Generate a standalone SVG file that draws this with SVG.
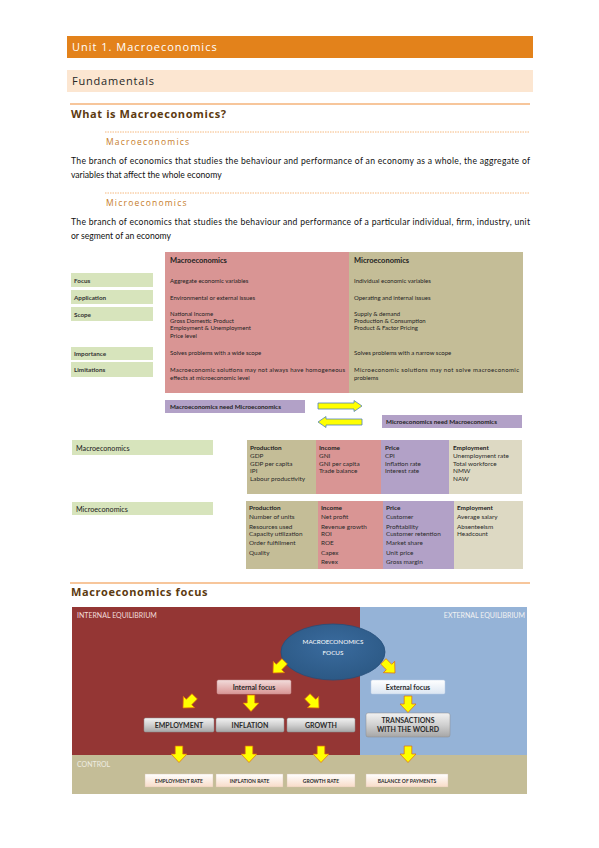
<svg xmlns="http://www.w3.org/2000/svg" width="599" height="848" viewBox="0 0 599 848">
<defs>
<style>
.hd{font-family:"Open Sans","Liberation Sans",sans-serif;}
.b{font-family:Lato,"Liberation Sans",sans-serif;}
.t6{font-family:Lato,"Liberation Sans",sans-serif;font-size:6px;fill:#222;}
.t6b{font-family:Lato,"Liberation Sans",sans-serif;font-size:6.3px;fill:#222;font-weight:bold;}
.lab{font-family:Lato,"Liberation Sans",sans-serif;font-size:6.3px;fill:#333;font-weight:bold;}
.cell{font-family:Lato,"Liberation Sans",sans-serif;font-size:6.4px;fill:#2a2a2a;}
.cellb{font-family:Lato,"Liberation Sans",sans-serif;font-size:6.4px;fill:#222;font-weight:bold;}
.fx{font-family:Lato,"Liberation Sans",sans-serif;font-weight:bold;fill:#2b2b2b;text-anchor:middle;}
.arr{fill:#FFFF00;stroke:#E36C09;stroke-width:0.7;}
.harr{fill:#FFFF00;stroke:#4F81BD;stroke-width:0.8;}
</style>
<path id="da" d="M-3.8,-8 H3.8 V0 H8 L0,8.5 L-8,0 H-3.8 Z"/>
<linearGradient id="gPink" x1="0" y1="0" x2="0" y2="1"><stop offset="0" stop-color="#F2DCDB"/><stop offset="1" stop-color="#D99594"/></linearGradient>
<linearGradient id="gWhite" x1="0" y1="0" x2="0" y2="1"><stop offset="0" stop-color="#FFFFFF"/><stop offset="1" stop-color="#DCE6F2"/></linearGradient>
<linearGradient id="gGray" x1="0" y1="0" x2="0" y2="1"><stop offset="0" stop-color="#F2F2F2"/><stop offset="0.5" stop-color="#D0D0D0"/><stop offset="1" stop-color="#A6A6A6"/></linearGradient>
<linearGradient id="gPeach" x1="0" y1="0" x2="0" y2="1"><stop offset="0" stop-color="#FFFFFF"/><stop offset="1" stop-color="#F8DCC8"/></linearGradient>
<radialGradient id="gEll" cx="0.5" cy="0.4" r="0.6"><stop offset="0" stop-color="#3A6B9E"/><stop offset="1" stop-color="#2C5985"/></radialGradient>
</defs>

<g id="header">
<rect x="67" y="36" width="466" height="22" fill="#E3821B"/>
<text x="72" y="51" class="hd" font-size="11" fill="#FFFFFF" letter-spacing="1">Unit 1. Macroeconomics</text>
<rect x="67" y="70" width="466" height="22" fill="#FCE6D1"/>
<text x="72" y="85" class="hd" font-size="11" fill="#262626" letter-spacing="0.8">Fundamentals</text>
<line x1="70" y1="104" x2="530" y2="104" stroke="#F4B37A" stroke-width="1.5"/>
<text x="71" y="118" class="hd" font-size="11" font-weight="bold" fill="#5C3A10" letter-spacing="0.6">What is Macroeconomics?</text>
</g>

<g id="definitions">
<line x1="105" y1="132" x2="530" y2="132" stroke="#F2A65E" stroke-width="0.8" stroke-dasharray="1.5,1"/>
<text x="106" y="145" class="hd" font-size="8.5" fill="#C67C2A" letter-spacing="1.2">Macroeconomics</text>
<text x="71" y="164" class="b" font-size="8.6" fill="#111" textLength="459" lengthAdjust="spacing">The branch of economics that studies the behaviour and performance of an economy as a whole, the aggregate of</text>
<text x="71" y="178" class="b" font-size="8.6" fill="#111">variables that affect the whole economy</text>
<line x1="105" y1="193" x2="530" y2="193" stroke="#F2A65E" stroke-width="0.8" stroke-dasharray="1.5,1"/>
<text x="106" y="206" class="hd" font-size="8.5" fill="#C67C2A" letter-spacing="1.2">Microeconomics</text>
<text x="71" y="225" class="b" font-size="8.6" fill="#111" textLength="459" lengthAdjust="spacing">The branch of economics that studies the behaviour and performance of a particular individual, firm, industry, unit</text>
<text x="71" y="239" class="b" font-size="8.6" fill="#111">or segment of an economy</text>
</g>

<g id="comparison">
<rect x="165" y="252" width="184" height="141" fill="#D99594"/>
<rect x="349" y="252" width="174" height="141" fill="#C4BD97"/>
<text x="170" y="263" class="b" font-size="7.5" font-weight="bold" fill="#222">Macroeconomics</text>
<text x="354" y="263" class="b" font-size="7.5" font-weight="bold" fill="#222">Microeconomics</text>
<text x="170" y="283" class="t6">Aggregate economic variables</text>
<text x="170" y="300" class="t6">Environmental or external issues</text>
<text x="170" y="316" class="t6">National Income</text>
<text x="170" y="323" class="t6">Gross Domestic Product</text>
<text x="170" y="330" class="t6">Employment &amp; Unemployment</text>
<text x="170" y="338" class="t6">Price level</text>
<text x="170" y="355" class="t6">Solves problems with a wide scope</text>
<text x="170" y="372" class="t6" textLength="175" lengthAdjust="spacing">Macroeconomic solutions may not always have homogeneous</text>
<text x="170" y="380" class="t6">effects at microeconomic level</text>
<text x="354" y="283" class="t6">Individual economic variables</text>
<text x="354" y="300" class="t6">Operating and internal issues</text>
<text x="354" y="316" class="t6">Supply &amp; demand</text>
<text x="354" y="323" class="t6">Production &amp; Consumption</text>
<text x="354" y="330" class="t6">Product &amp; Factor Pricing</text>
<text x="354" y="355" class="t6">Solves problems with a narrow scope</text>
<text x="354" y="372" class="t6" textLength="165" lengthAdjust="spacing">Microeconomic solutions may not solve macroeconomic</text>
<text x="354" y="380" class="t6">problems</text>
</g>

<g id="row-labels">
<rect x="71" y="273" width="82" height="14" fill="#D7E4BC"/>
<text x="74" y="282.5" class="lab">Focus</text>
<rect x="71" y="290" width="82" height="14" fill="#D7E4BC"/>
<text x="74" y="299.5" class="lab">Application</text>
<rect x="71" y="307" width="82" height="14" fill="#D7E4BC"/>
<text x="74" y="316.5" class="lab">Scope</text>
<rect x="71" y="347" width="82" height="13" fill="#D7E4BC"/>
<text x="74" y="356" class="lab">Importance</text>
<rect x="71" y="362" width="82" height="15" fill="#D7E4BC"/>
<text x="74" y="372" class="lab">Limitations</text>
</g>

<g id="need-boxes">
<rect x="165" y="400" width="140" height="13" fill="#B2A1C7"/>
<text x="170" y="409" class="t6b">Macroeconomics need Microeconomics</text>
<rect x="382" y="415" width="140" height="13" fill="#B2A1C7"/>
<text x="386" y="424" class="t6b">Microeconomics need Macroeconomics</text>
</g>

<g id="macro-indicators">
<rect x="72" y="440" width="141" height="15" fill="#D7E4BC"/>
<text x="76" y="450.5" class="b" font-size="7.2" fill="#222">Macroeconomics</text>
<rect x="247" y="440" width="69" height="54" fill="#C4BD97"/>
<rect x="316" y="440" width="65" height="54" fill="#D99594"/>
<rect x="381" y="440" width="68" height="54" fill="#B2A1C7"/>
<rect x="449" y="440" width="73" height="54" fill="#DDD9C3"/>
<text x="250" y="450" class="cellb">Production</text>
<text x="250" y="457.5" class="cell">GDP</text>
<text x="250" y="466" class="cell">GDP per capita</text>
<text x="250" y="473" class="cell">IPI</text>
<text x="250" y="481" class="cell">Labour productivity</text>
<text x="319" y="450" class="cellb">Income</text>
<text x="319" y="457.5" class="cell">GNI</text>
<text x="319" y="466" class="cell">GNI per capita</text>
<text x="319" y="473" class="cell">Trade balance</text>
<text x="385" y="450" class="cellb">Price</text>
<text x="385" y="457.5" class="cell">CPI</text>
<text x="385" y="466" class="cell">Inflation rate</text>
<text x="385" y="473" class="cell">Interest rate</text>
<text x="453" y="450" class="cellb">Employment</text>
<text x="453" y="457.5" class="cell">Unemployment rate</text>
<text x="453" y="466" class="cell">Total workforce</text>
<text x="453" y="473" class="cell">NMW</text>
<text x="453" y="481" class="cell">NAW</text>
</g>

<g id="micro-indicators">
<rect x="72" y="502" width="141" height="13" fill="#D7E4BC"/>
<text x="76" y="511.5" class="b" font-size="7.2" fill="#222">Microeconomics</text>
<rect x="246" y="501" width="72" height="68" fill="#C4BD97"/>
<rect x="318" y="501" width="65" height="68" fill="#D99594"/>
<rect x="383" y="501" width="71" height="68" fill="#B2A1C7"/>
<rect x="454" y="501" width="69" height="68" fill="#DDD9C3"/>
<text x="249" y="510" class="cellb">Production</text>
<text x="249" y="519" class="cell">Number of units</text>
<text x="249" y="528.5" class="cell">Resources used</text>
<text x="249" y="536" class="cell">Capacity utilization</text>
<text x="249" y="545" class="cell">Order fulfillment</text>
<text x="249" y="555" class="cell">Quality</text>
<text x="321" y="510" class="cellb">Income</text>
<text x="321" y="519" class="cell">Net profit</text>
<text x="321" y="528.5" class="cell">Revenue growth</text>
<text x="321" y="536" class="cell">ROI</text>
<text x="321" y="545" class="cell">ROE</text>
<text x="321" y="555" class="cell">Capex</text>
<text x="321" y="564" class="cell">Revex</text>
<text x="386" y="510" class="cellb">Price</text>
<text x="386" y="519" class="cell">Customer</text>
<text x="386" y="528.5" class="cell">Profitability</text>
<text x="386" y="536" class="cell">Customer retention</text>
<text x="386" y="545" class="cell">Market share</text>
<text x="386" y="555" class="cell">Unit price</text>
<text x="386" y="564" class="cell">Gross margin</text>
<text x="457" y="510" class="cellb">Employment</text>
<text x="457" y="519" class="cell">Average salary</text>
<text x="457" y="528.5" class="cell">Absenteeism</text>
<text x="457" y="536" class="cell">Headcount</text>
</g>

<g id="focus-title">
<line x1="70" y1="583" x2="530" y2="583" stroke="#F4B37A" stroke-width="1.5"/>
<text x="71" y="596" class="hd" font-size="11" font-weight="bold" fill="#5C3A10" letter-spacing="0.6">Macroeconomics focus</text>
</g>

<g id="regions">
<rect x="72" y="607" width="288" height="148" fill="#943634"/>
<rect x="360" y="607" width="167" height="148" fill="#95B3D7"/>
<rect x="72" y="755" width="455" height="39" fill="#C4BD97"/>
<text x="77" y="618" class="b" font-size="7" fill="#F2DCDB">INTERNAL EQUILIBRIUM</text>
<text x="525" y="618" class="b" font-size="7" fill="#F2F2F2" text-anchor="end">EXTERNAL EQUILIBRIUM</text>
<text x="77" y="767" class="b" font-size="7" fill="#EEECE1">CONTROL</text>
</g>

<g id="focus-ellipse">
<ellipse cx="333" cy="652" rx="52" ry="28" fill="url(#gEll)" stroke="#254E7A" stroke-width="0.8"/>
<text x="333" y="644" class="b" font-size="6.3" fill="#FFFFFF" text-anchor="middle">MACROECONOMICS</text>
<text x="333" y="655" class="b" font-size="6.3" fill="#FFFFFF" text-anchor="middle">FOCUS</text>
</g>

<g id="internal-focus">
<rect x="217" y="680" width="74" height="14" rx="1.5" fill="url(#gPink)" stroke="#C79090" stroke-width="0.5"/>
<text x="254" y="690" class="fx" font-size="7">Internal focus</text>
</g>
<g id="external-focus">
<rect x="371" y="680" width="74" height="14" rx="1.5" fill="url(#gWhite)" stroke="#B8CCE4" stroke-width="0.5"/>
<text x="408" y="690" class="fx" font-size="7">External focus</text>
</g>

<g id="employment">
<rect x="144" y="718" width="70" height="14" rx="1.5" fill="url(#gGray)" stroke="#8C8C8C" stroke-width="0.5"/>
<text x="179" y="728" class="fx" font-size="7">EMPLOYMENT</text>
</g>
<g id="inflation">
<rect x="216" y="718" width="68" height="14" rx="1.5" fill="url(#gGray)" stroke="#8C8C8C" stroke-width="0.5"/>
<text x="250" y="728" class="fx" font-size="7">INFLATION</text>
</g>
<g id="growth">
<rect x="287" y="718" width="68" height="14" rx="1.5" fill="url(#gGray)" stroke="#8C8C8C" stroke-width="0.5"/>
<text x="321" y="728" class="fx" font-size="7">GROWTH</text>
</g>
<g id="transactions">
<rect x="366" y="713" width="84" height="24" rx="2" fill="url(#gGray)" stroke="#8C8C8C" stroke-width="0.5"/>
<text x="408" y="723" class="fx" font-size="7">TRANSACTIONS</text>
<text x="408" y="732" class="fx" font-size="7">WITH THE WOLRD</text>
</g>

<g id="employment-rate">
<rect x="145" y="774" width="68" height="13" fill="url(#gPeach)" stroke="#D8C3B0" stroke-width="0.4"/>
<text x="179" y="782.5" class="fx" font-size="5" fill="#595959">EMPLOYMENT RATE</text>
</g>
<g id="inflation-rate">
<rect x="216" y="774" width="67" height="13" fill="url(#gPeach)" stroke="#D8C3B0" stroke-width="0.4"/>
<text x="249.5" y="782.5" class="fx" font-size="5" fill="#595959">INFLATION RATE</text>
</g>
<g id="growth-rate">
<rect x="287" y="774" width="68" height="13" fill="url(#gPeach)" stroke="#D8C3B0" stroke-width="0.4"/>
<text x="321" y="782.5" class="fx" font-size="5" fill="#595959">GROWTH RATE</text>
</g>
<g id="balance-of-payments">
<rect x="366" y="774" width="82" height="13" fill="url(#gPeach)" stroke="#D8C3B0" stroke-width="0.4"/>
<text x="407" y="782.5" class="fx" font-size="5" fill="#595959">BALANCE OF PAYMENTS</text>
</g>

<g id="connectors">
<path class="harr" d="M318,403 H354 V400.5 L362,406 L354,411.5 V409 H318 Z"/>
<path class="harr" d="M362,419 H326 V416.5 L318,422 L326,427.5 V425 H362 Z"/>
<use href="#da" class="arr" transform="translate(279,667) rotate(45)"/>
<use href="#da" class="arr" transform="translate(389,667) rotate(-45)"/>
<use href="#da" class="arr" transform="translate(189,702) rotate(45)"/>
<use href="#da" class="arr" transform="translate(251,703)"/>
<use href="#da" class="arr" transform="translate(313,702) rotate(-45)"/>
<use href="#da" class="arr" transform="translate(408,704)"/>
<use href="#da" class="arr" transform="translate(179,754)"/>
<use href="#da" class="arr" transform="translate(249,754)"/>
<use href="#da" class="arr" transform="translate(321,754)"/>
<use href="#da" class="arr" transform="translate(408,754)"/>
</g>
</svg>
